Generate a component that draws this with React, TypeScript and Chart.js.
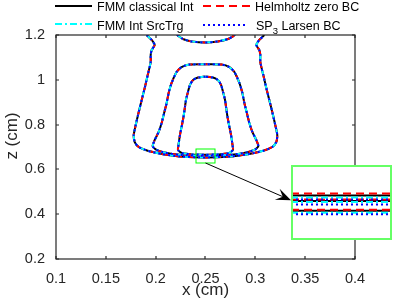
import React, { useEffect, useRef } from "react";
import { Chart, registerables } from "chart.js";

Chart.register(...registerables);

const FONT = "'Liberation Sans', Arial, Helvetica, sans-serif";

// ---- axis ticks ----
const xTickValues = [0.1, 0.15, 0.2, 0.25, 0.3, 0.35, 0.4];
const xTickLabels = ["0.1", "0.15", "0.2", "0.25", "0.3", "0.35", "0.4"];
const zTickValues = [0.2, 0.4, 0.6, 0.8, 1.0, 1.2];
const zTickLabels = ["0.2", "0.4", "0.6", "0.8", "1", "1.2"];
const xTitle = "x (cm)";
const zTitle = "z (cm)";

// ---- contour lines (x in cm, z in cm) ----
const outerX = [0.191, 0.196, 0.199, 0.196, 0.195, 0.195, 0.192, 0.189, 0.186, 0.183, 0.18, 0.178, 0.179, 0.183, 0.192, 0.206, 0.224, 0.25, 0.276, 0.294, 0.308, 0.317, 0.321, 0.322, 0.32, 0.317, 0.314, 0.311, 0.308, 0.305, 0.305, 0.304, 0.301, 0.304, 0.309];
const outerZ = [1.2, 1.178, 1.155, 1.133, 1.111, 1.079, 1.021, 0.963, 0.91, 0.856, 0.798, 0.754, 0.722, 0.7, 0.683, 0.669, 0.658, 0.6535, 0.658, 0.669, 0.683, 0.7, 0.722, 0.754, 0.798, 0.856, 0.91, 0.963, 1.021, 1.079, 1.111, 1.133, 1.155, 1.178, 1.2];

const topArcX = [0.2214, 0.2274, 0.2364, 0.2495, 0.2625, 0.2726, 0.2796];
const topArcZ = [1.2, 1.182, 1.171, 1.1665, 1.171, 1.182, 1.2];

const middleX = [0.25, 0.234, 0.226, 0.221, 0.216, 0.213, 0.211, 0.208, 0.206, 0.203, 0.199, 0.197, 0.2, 0.209, 0.224, 0.25, 0.276, 0.291, 0.3, 0.303, 0.301, 0.297, 0.294, 0.292, 0.289, 0.287, 0.284, 0.279, 0.274, 0.266, 0.25];
const middleZ = [1.069, 1.068, 1.057, 1.035, 0.986, 0.941, 0.896, 0.843, 0.807, 0.767, 0.731, 0.704, 0.689, 0.675, 0.665, 0.661, 0.665, 0.675, 0.689, 0.704, 0.731, 0.767, 0.807, 0.843, 0.896, 0.941, 0.986, 1.035, 1.057, 1.068, 1.069];

const innerX = [0.25, 0.2425, 0.2375, 0.2344, 0.2324, 0.2304, 0.2294, 0.2279, 0.2264, 0.2244, 0.2229, 0.2224, 0.2264, 0.2364, 0.25, 0.2636, 0.2736, 0.2776, 0.2771, 0.2756, 0.2736, 0.2721, 0.2706, 0.2696, 0.2676, 0.2656, 0.2625, 0.2575, 0.25];
const innerZ = [1.014, 1.01, 0.999, 0.977, 0.946, 0.91, 0.879, 0.834, 0.798, 0.754, 0.709, 0.687, 0.673, 0.667, 0.6657, 0.667, 0.673, 0.687, 0.709, 0.754, 0.798, 0.834, 0.879, 0.91, 0.946, 0.977, 0.999, 1.01, 1.014];

// ---- series ----
const seriesNames = ["FMM classical Int", "Helmholtz zero BC", "FMM Int SrcTrg", "SP3 Larsen BC"];
const seriesColors = ["#000000", "#ff0000", "#00ffff", "#0000ff"];
const seriesDashes: number[][] = [[], [8, 5], [7, 3, 2, 3], [2, 3]];

// ---- zoomed inset: bottoms of the three contours, per series (black, red, cyan, blue) ----
const insetX = [0.24, 0.26];
const insetInnerZ = [0.6657, 0.6673, 0.664, 0.6624];
const insetMiddleZ = [0.6612, 0.6624, 0.6604, 0.6584];
const insetOuterZ = [0.6535, 0.6543, 0.6519, 0.6507];

// zoom window (data coords)
const zoomBoxX = [0.24, 0.26];
const zoomBoxZ = [0.63, 0.69];

const INSET = { left: 291, top: 165, width: 101, height: 75 };
const Z_TITLE_POS = { x: 12, y: 136 };

function toPoints(xs: number[], zs: number[]) {
  return xs.map((x, i) => ({ x, y: zs[i] }));
}

const contours: [number[], number[]][] = [
  [outerX, outerZ],
  [topArcX, topArcZ],
  [middleX, middleZ],
  [innerX, innerZ],
];

const framePlugin = {
  id: "frame",
  afterDraw(chart: any) {
    const { ctx, chartArea: a } = chart;
    const xs = chart.scales.x;
    const ys = chart.scales.y;
    ctx.save();
    const L = Math.round(a.left);
    const R = Math.round(a.right);
    const T = Math.round(a.top);
    const B = Math.round(a.bottom);
    ctx.strokeStyle = "#262626";
    ctx.lineWidth = 1.2;
    ctx.strokeRect(L, T, R - L, B - T);
    const tl = 3;
    ctx.beginPath();
    xTickValues.forEach((v) => {
      const p = Math.round(xs.getPixelForValue(v));
      ctx.moveTo(p, B);
      ctx.lineTo(p, B - tl);
      ctx.moveTo(p, T);
      ctx.lineTo(p, T + tl);
    });
    zTickValues.forEach((v) => {
      const p = Math.round(ys.getPixelForValue(v));
      ctx.moveTo(L, p);
      ctx.lineTo(L + tl, p);
      ctx.moveTo(R, p);
      ctx.lineTo(R - tl, p);
    });
    ctx.stroke();

    // z axis title
    ctx.save();
    ctx.translate(Z_TITLE_POS.x, Z_TITLE_POS.y);
    ctx.rotate(-Math.PI / 2);
    ctx.font = `17px ${FONT}`;
    ctx.fillStyle = "#262626";
    ctx.textAlign = "center";
    ctx.textBaseline = "middle";
    ctx.fillText(zTitle, 0, 0);
    ctx.restore();

    // zoom window
    const bx0 = Math.round(xs.getPixelForValue(zoomBoxX[0]));
    const bx1 = Math.round(xs.getPixelForValue(zoomBoxX[1]));
    const by0 = Math.round(ys.getPixelForValue(zoomBoxZ[1]));
    const by1 = Math.round(ys.getPixelForValue(zoomBoxZ[0]));
    ctx.strokeStyle = "#00ff00";
    ctx.lineWidth = 1;
    ctx.strokeRect(bx0, by0, bx1 - bx0, by1 - by0);

    // arrow
    const sx = (bx0 + bx1) / 2;
    const sy = by1;
    const tx = INSET.left;
    const ty = INSET.top + INSET.height * 0.47;
    const dx = tx - sx;
    const dy = ty - sy;
    const len = Math.hypot(dx, dy);
    const ux = dx / len;
    const uy = dy / len;
    const nx = -uy;
    const ny = ux;
    const hl = 15;
    const hw = 6;
    ctx.strokeStyle = "#000";
    ctx.lineWidth = 1;
    ctx.beginPath();
    ctx.moveTo(sx, sy);
    ctx.lineTo(tx - ux * hl * 0.6, ty - uy * hl * 0.6);
    ctx.stroke();
    ctx.fillStyle = "#000";
    ctx.beginPath();
    ctx.moveTo(tx, ty);
    ctx.lineTo(tx - ux * hl + nx * hw, ty - uy * hl + ny * hw);
    ctx.lineTo(tx - ux * hl * 0.6, ty - uy * hl * 0.6);
    ctx.lineTo(tx - ux * hl - nx * hw, ty - uy * hl - ny * hw);
    ctx.closePath();
    ctx.fill();
    ctx.restore();
  },
};

const insetPlugin = {
  id: "insetFrame",
  beforeDraw(chart: any) {
    const { ctx, width, height } = chart;
    ctx.save();
    ctx.fillStyle = "#ffffff";
    ctx.fillRect(0, 0, width, height);
    ctx.restore();
  },
  afterDraw(chart: any) {
    const { ctx, width, height } = chart;
    ctx.save();
    ctx.strokeStyle = "#66ff66";
    ctx.lineWidth = 2;
    ctx.strokeRect(1, 1, width - 2, height - 2);
    ctx.restore();
  },
};

function MainChart() {
  const ref = useRef<HTMLCanvasElement>(null);
  useEffect(() => {
    if (!ref.current) return;
    const datasets: any[] = [];
    seriesColors.forEach((color, s) => {
      contours.forEach(([xs, zs]) => {
        datasets.push({
          label: seriesNames[s],
          data: toPoints(xs, zs),
          showLine: true,
          borderColor: color,
          backgroundColor: color,
          borderWidth: 2,
          borderDash: seriesDashes[s],
          pointRadius: 0,
          tension: 0.2,
          fill: false,
          order: 4 - s,
        });
      });
    });
    const chart = new Chart(ref.current, {
      type: "scatter",
      data: { datasets },
      plugins: [framePlugin],
      options: {
        responsive: false,
        animation: false,
        devicePixelRatio: 1,
        events: [],
        layout: { padding: { top: 35, right: 44, left: 0, bottom: 0 } },
        plugins: { legend: { display: false }, tooltip: { enabled: false } },
        scales: {
          x: {
            type: "linear",
            min: 0.1,
            max: 0.4,
            grid: { display: false, drawTicks: false },
            border: { display: false },
            afterBuildTicks: (s: any) => {
              s.ticks = xTickValues.map((v) => ({ value: v }));
            },
            afterFit: (s: any) => {
              s.height = 40;
            },
            ticks: {
              callback: (_v: any, i: number) => xTickLabels[i],
              font: { family: FONT, size: 14.5 },
              color: "#262626",
              padding: 11,
              maxRotation: 0,
              autoSkip: false,
            },
            title: {
              display: true,
              text: xTitle,
              font: { family: FONT, size: 17 },
              color: "#262626",
              padding: { top: 0, bottom: -1.6 },
            },
          },
          y: {
            type: "linear",
            min: 0.2,
            max: 1.2,
            grid: { display: false, drawTicks: false },
            border: { display: false },
            afterBuildTicks: (s: any) => {
              s.ticks = zTickValues.map((v) => ({ value: v }));
            },
            afterFit: (s: any) => {
              s.width = 56;
            },
            ticks: {
              callback: (_v: any, i: number) => zTickLabels[i],
              font: { family: FONT, size: 14.5 },
              color: "#262626",
              padding: 11,
              autoSkip: false,
            },
            title: { display: false },
          },
        },
      } as any,
    });
    return () => chart.destroy();
  }, []);
  return <canvas ref={ref} width={399} height={299} style={{ position: "absolute", left: 0, top: 0, width: 399, height: 299 }} />;
}

function InsetChart() {
  const ref = useRef<HTMLCanvasElement>(null);
  useEffect(() => {
    if (!ref.current) return;
    const datasets: any[] = [];
    seriesColors.forEach((color, s) => {
      [insetInnerZ, insetMiddleZ, insetOuterZ].forEach((zs) => {
        datasets.push({
          data: insetX.map((x) => ({ x, y: zs[s] })),
          showLine: true,
          borderColor: color,
          backgroundColor: color,
          borderWidth: 2,
          borderDash: seriesDashes[s],
          pointRadius: 0,
          fill: false,
          order: 4 - s,
        });
      });
    });
    const chart = new Chart(ref.current, {
      type: "scatter",
      data: { datasets },
      plugins: [insetPlugin],
      options: {
        responsive: false,
        animation: false,
        devicePixelRatio: 1,
        events: [],
        layout: { padding: 0 },
        plugins: { legend: { display: false }, tooltip: { enabled: false } },
        scales: {
          x: { type: "linear", min: zoomBoxX[0], max: zoomBoxX[1], display: false },
          y: { type: "linear", min: zoomBoxZ[0], max: zoomBoxZ[1], display: false },
        },
      } as any,
    });
    return () => chart.destroy();
  }, []);
  return (
    <canvas
      ref={ref}
      width={INSET.width}
      height={INSET.height}
      style={{ position: "absolute", left: INSET.left, top: INSET.top, width: INSET.width, height: INSET.height }}
    />
  );
}

function LegendLine({ left, top, width, color, dash }: { left: number; top: number; width: number; color: string; dash: number[] }) {
  return (
    <svg style={{ position: "absolute", left, top: top - 2, overflow: "visible" }} width={width} height={4}>
      <line x1={0} y1={2} x2={width} y2={2} stroke={color} strokeWidth={2} strokeDasharray={dash.length ? dash.join(" ") : undefined} />
    </svg>
  );
}

const textStyle: React.CSSProperties = {
  position: "absolute",
  fontFamily: FONT,
  fontSize: 12.5,
  lineHeight: "12.5px",
  color: "#000",
  whiteSpace: "nowrap",
};

export default function App() {
  return (
    <div style={{ position: "fixed", left: 0, top: 0, width: 399, height: 299, background: "#fff", overflow: "hidden" }}>
      <MainChart />
      <InsetChart />
      <LegendLine left={55} top={6} width={37} color={seriesColors[0]} dash={seriesDashes[0]} />
      <span style={{ ...textStyle, left: 97, top: 1.4 }}>{seriesNames[0]}</span>
      <LegendLine left={203} top={6} width={47} color={seriesColors[1]} dash={seriesDashes[1]} />
      <span style={{ ...textStyle, left: 255, top: 1.4 }}>{seriesNames[1]}</span>
      <LegendLine left={55} top={24} width={37} color={seriesColors[2]} dash={seriesDashes[2]} />
      <span style={{ ...textStyle, left: 97, top: 20.4 }}>{seriesNames[2]}</span>
      <LegendLine left={203} top={25} width={45} color={seriesColors[3]} dash={seriesDashes[3]} />
      <span style={{ ...textStyle, left: 256, top: 20.4 }}>
        SP<span style={{ fontSize: 9.5, position: "relative", top: 4 }}>3</span> Larsen BC
      </span>
    </div>
  );
}
